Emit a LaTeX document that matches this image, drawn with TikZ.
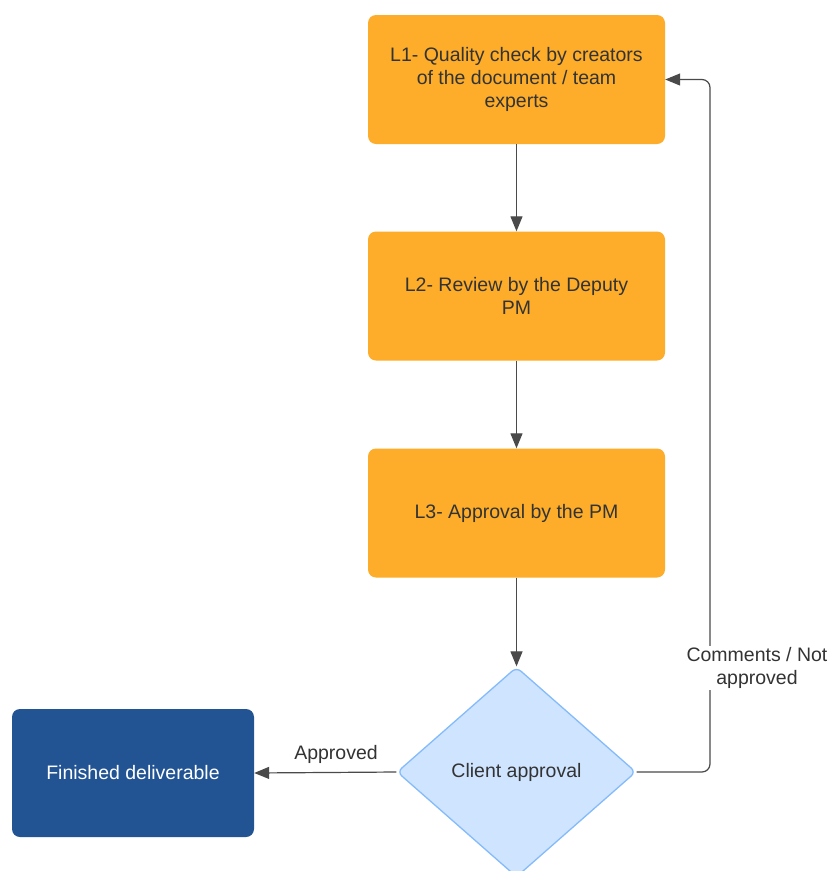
\documentclass[tikz,border=0pt]{standalone}
\usepackage{fontspec}
\setmainfont{Liberation Sans}
\usetikzlibrary{shapes.geometric,arrows.meta}
\definecolor{orangebox}{HTML}{FDAD29}
\definecolor{darkblue}{HTML}{225494}
\definecolor{lightblue}{HTML}{CFE4FF}
\definecolor{bluedge}{HTML}{84BBFB}
\definecolor{txt}{HTML}{333333}
\definecolor{linec}{HTML}{4A4A4A}
\tikzset{
  x=1pt, y=-1pt,
  every node/.style={font=\fontsize{19.5}{23}\selectfont, text=txt, align=center},
  stepbox/.style={fill=orangebox, rounded corners=8pt, minimum width=297pt, minimum height=129pt, inner sep=0pt},
  finalbox/.style={fill=darkblue, rounded corners=8pt, minimum width=242pt, minimum height=128pt, inner sep=0pt, text=white},
  decision/.style={diamond, fill=lightblue, draw=bluedge, line width=1.3pt, rounded corners=6pt, minimum width=239pt, minimum height=210pt, inner sep=0pt, aspect=1.14},
  conn/.style={draw=linec, line width=1.2pt, -{Triangle[length=15pt,width=12pt]}, rounded corners=8pt},
  lbl/.style={fill=white, inner sep=1pt}
}
\begin{document}
\begin{tikzpicture}
\clip (0,0) rectangle (831,871);
\useasboundingbox (0,0) rectangle (831,871);
\fill[white] (0,0) rectangle (831,871);
\node[stepbox] (L1) at (516.5,79.5) {L1- Quality check by creators\\of the document / team\\experts};
\node[stepbox] (L2) at (516.5,296) {L2- Review by the Deputy\\PM};
\node[stepbox] (L3) at (516.5,513) {L3- Approval by the PM};
\node[decision] (D) at (516.5,772) {Client approval};
\node[finalbox] (F) at (133,773) {Finished deliverable};
\coordinate (R) at (710,772);
\draw[conn] (L1) -- (L2);
\draw[conn] (L2) -- (L3);
\draw[conn] (L3) -- (D);
\draw[conn] (D.west) -- (F.east);
\draw[conn] (D.east) -- (R) |- (L1.east);
\node[lbl] (cm) at (757,668) {Comments / Not\\approved};
\node (ap) at (336,754) {Approved};
\end{tikzpicture}
\end{document}
